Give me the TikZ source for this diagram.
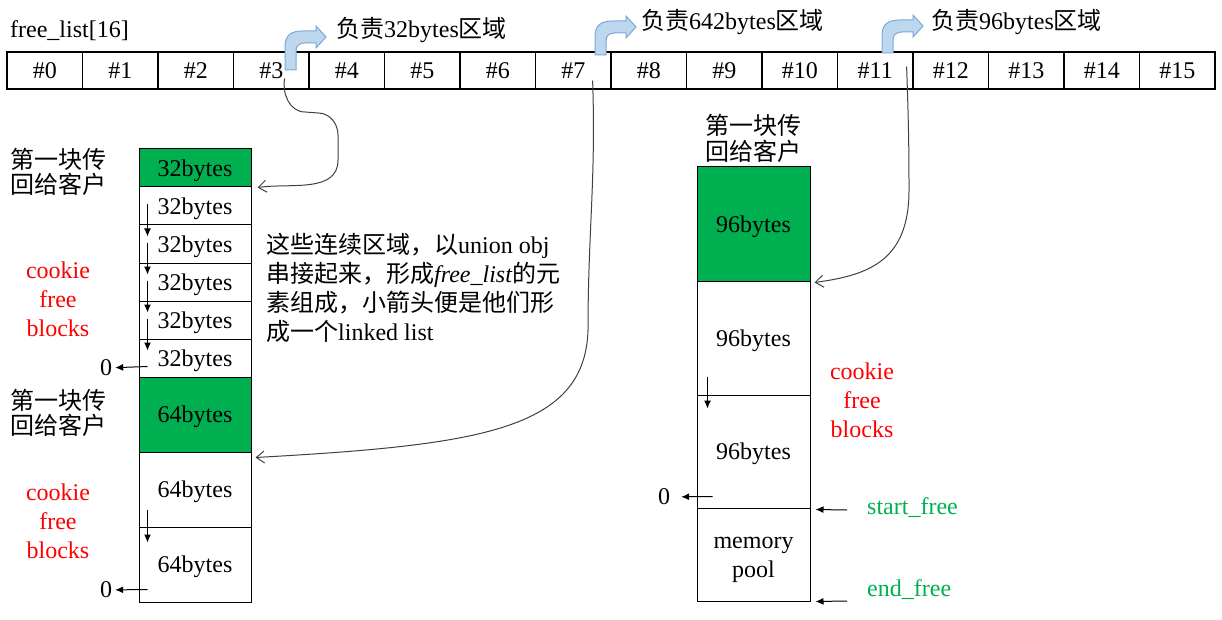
\documentclass[tikz,border=0pt]{standalone}
\usepackage{fontspec}
\setmainfont{Liberation Serif}
\newfontfamily\cjk{Noto Sans CJK SC}
\usepackage{tikz}
\definecolor{vert}{HTML}{00B050}
\definecolor{rouge}{HTML}{FF0000}
\definecolor{ciel}{HTML}{BDD7EE}
\definecolor{bleu}{HTML}{7EA6D6}
\definecolor{gris}{gray}{0.25}
\usetikzlibrary{calc,arrows.meta}
\tikzset{slot/.style={
    draw,
    line width=1.2pt,
    minimum width=75.5pt,
    minimum height=37pt,
    inner sep=0}}
\tikzset{blk/.style={
    draw,
    line width=1pt,
    minimum width=112pt,
    text depth=0pt,
    inner sep=0}}
\tikzset{ptr/.style={
    line width=1pt,
    -{Latex[length=8pt,width=7pt]}}}
\tikzset{link/.style={
    gris,
    line width=1pt,
    -{Straight Barb[length=8pt,width=12pt]}}}
\tikzset{callout/.style={
    fill=ciel,
    draw=bleu,
    line width=1pt}}
\tikzset{note/.style={
    font=\cjk\fontsize{24}{25}\selectfont,
    align=left,
    inner sep=0}}
\tikzset{cookie/.style={
    rouge,
    align=center,
    inner sep=0}}

\begin{document}
\begin{tikzpicture}[x=1pt, y=-1pt, font=\fontsize{24}{29}\selectfont]
  \useasboundingbox (0,0) rectangle (1222,620);

\node[anchor=west, inner sep=0] (fl) at (10,31) {free\_list[16]};

\node[slot] (c0) at (44.75,70.5) {\#0};
\node[slot] (c1) at (120.25,70.5) {\#1};
\node[slot] (c2) at (195.75,70.5) {\#2};
\node[slot] (c3) at (271.25,70.5) {\#3};
\node[slot] (c4) at (346.75,70.5) {\#4};
\node[slot] (c5) at (422.25,70.5) {\#5};
\node[slot] (c6) at (497.75,70.5) {\#6};
\node[slot] (c7) at (573.25,70.5) {\#7};
\node[slot] (c8) at (648.75,70.5) {\#8};
\node[slot] (c9) at (724.25,70.5) {\#9};
\node[slot] (c10) at (799.75,70.5) {\#10};
\node[slot] (c11) at (875.25,70.5) {\#11};
\node[slot] (c12) at (950.75,70.5) {\#12};
\node[slot] (c13) at (1026.25,70.5) {\#13};
\node[slot] (c14) at (1101.75,70.5) {\#14};
\node[slot] (c15) at (1177.25,70.5) {\#15};

\draw[callout, shift={(285,37)}] (0,33) -- (0,10)
  .. controls (0,-2) and (6,-6) .. (18,-6) -- (31,-6) -- (31,-11)
  -- (41,0) -- (31,11) -- (31,6) -- (20,6)
  .. controls (14,6) and (11,9) .. (11,14) -- (11,33) -- cycle;
\draw[callout, shift={(595,27)}] (0,28) -- (0,10)
  .. controls (0,-2) and (6,-6) .. (18,-6) -- (31,-6) -- (31,-11)
  -- (41,0) -- (31,11) -- (31,6) -- (20,6)
  .. controls (14,6) and (11,9) .. (11,14) -- (11,28) -- cycle;
\draw[callout, shift={(882,26)}] (0,27) -- (0,10)
  .. controls (0,-2) and (6,-6) .. (18,-6) -- (31,-6) -- (31,-11)
  -- (41,0) -- (31,11) -- (31,6) -- (20,6)
  .. controls (14,6) and (11,9) .. (11,14) -- (11,27) -- cycle;

\node[anchor=west, inner sep=0] (t1) at (336,30) {{\cjk 负责}32bytes{\cjk 区域}};
\node[anchor=west, inner sep=0] (t2) at (641,22) {{\cjk 负责}642bytes{\cjk 区域}};
\node[anchor=west, inner sep=0] (t3) at (931,22) {{\cjk 负责}96bytes{\cjk 区域}};

\node[blk, fill=vert, minimum height=38pt] (L1) at (195,168) {32bytes};
\node[blk, minimum height=38pt] (L2) at (195,206) {32bytes};
\node[blk, minimum height=38pt] (L3) at (195,244) {32bytes};
\node[blk, minimum height=38pt] (L4) at (195,282) {32bytes};
\node[blk, minimum height=38pt] (L5) at (195,320) {32bytes};
\node[blk, minimum height=38pt] (L6) at (195,358) {32bytes};
\node[blk, fill=vert, minimum height=75pt] (M1) at (195,414.5) {64bytes};
\node[blk, minimum height=75pt] (M2) at (195,489.5) {64bytes};
\node[blk, minimum height=75pt] (M3) at (195,564.5) {64bytes};

\node[blk, fill=vert, minimum width=113pt, minimum height=114pt] (R1) at (753.5,224) {96bytes};
\node[blk, minimum width=113pt, minimum height=114pt] (R2) at (753.5,338) {96bytes};
\node[blk, minimum width=113pt, minimum height=113pt] (R3) at (753.5,451.5) {96bytes};
\node[blk, minimum width=113pt, minimum height=93pt] (P) at (753.5,554.5) {};
\node[align=center, inner sep=0] (pl) at (753.5,559.5) {memory\\pool};

\node[note, anchor=west] (g1) at (10,172) {第一块传\\回给客户};
\node[note, anchor=west] (g2) at (10,413) {第一块传\\回给客户};
\node[note, font=\cjk\fontsize{24}{26}\selectfont] (g3) at (753,138) {第一块传\\回给客户};

\node[cookie] (k1) at (58,299) {cookie\\free\\blocks};
\node[cookie] (k2) at (58,521) {cookie\\free\\blocks};
\node[cookie] (k3) at (862,400) {cookie\\free\\blocks};

\node[anchor=west, align=left, inner sep=0, font=\fontsize{24}{29}\selectfont] (txt) at (266,287.5)
  {{\cjk 这些连续区域，以}union obj\\
   {\cjk 串接起来，形成}\textit{free\_list}{\cjk 的元}\\
   {\cjk 素组成，小箭头便是他们形}\\
   {\cjk 成一个}linked list};

\node[inner sep=3pt] (z1) at (106,368) {0};
\node[inner sep=3pt] (z2) at (106,590) {0};
\node[inner sep=3pt] (z3) at (664,497) {0};

\node[anchor=west, inner sep=0, vert] (sf) at (867,508) {start\_free};
\node[anchor=west, inner sep=0, vert] (ef) at (867,590) {end\_free};

\draw[ptr] ($(L2.north west)+(9,18)$) -- ($(L3.north west)+(9,12)$);
\draw[ptr] ($(L3.north west)+(9,18)$) -- ($(L4.north west)+(9,12)$);
\draw[ptr] ($(L4.north west)+(9,18)$) -- ($(L5.north west)+(9,12)$);
\draw[ptr] ($(L5.north west)+(9,18)$) -- ($(L6.north west)+(9,12)$);
\draw[ptr] ($(L6.north west)+(9,28)$) -- (z1);
\draw[ptr] ($(M2.north west)+(9,58)$) -- ($(M3.north west)+(9,16)$);
\draw[ptr] ($(M3.north west)+(9,63)$) -- (z2);
\draw[ptr] ($(R2.north west)+(11,96)$) -- ($(R3.north west)+(11,14)$);
\draw[ptr, shorten >=8pt] ($(R3.north west)+(16,102)$) -- (z3);
\draw[ptr] ($(sf.west)+(-20,2)$) -- ($(P.north east)+(5,2)$);
\draw[ptr] ($(ef.west)+(-20,11)$) -- ($(P.south east)+(5,0)$);

\draw[link] ($(c3.east)+(-25,8)$) to[out=-100,in=180] (305,112) -- (318,113)
  to[out=0,in=90] (338,135) -- (338,160) to[out=-90,in=8] ($(L2.north east)+(6,1)$);
\draw[link] ($(c7.east)+(-19,10)$) to[out=-88,in=90] (588,330)
  .. controls (585,430) and (480,445) .. ($(M2.north east)+(4,6)$);
\draw[link] ($(c11.east)+(-7,-4)$) to[out=-88,in=90] (909,190)
  .. controls (909,260) and (870,275) .. ($(R2.north east)+(4,2)$);
\end{tikzpicture}
\end{document}
